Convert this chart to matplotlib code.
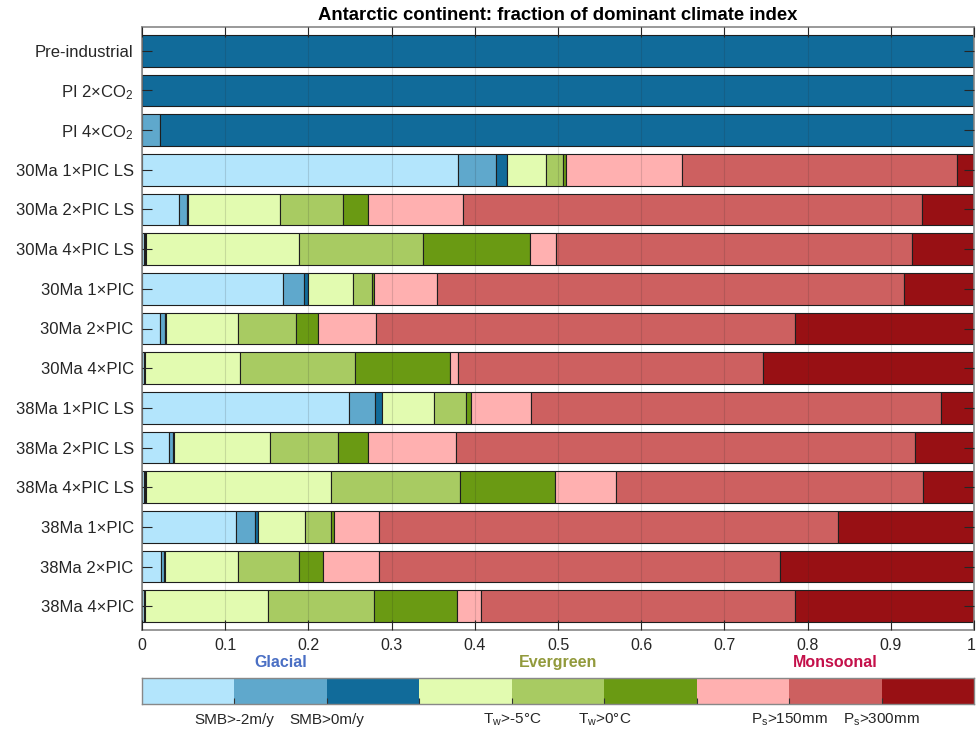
import numpy as np
import matplotlib
matplotlib.use("Agg")
import matplotlib.pyplot as plt
import matplotlib.transforms as mtransforms

plt.rcParams['font.family'] = ['Liberation Sans', 'DejaVu Sans']
plt.rcParams['mathtext.fontset'] = 'custom'
plt.rcParams['mathtext.rm'] = 'Liberation Sans'
plt.rcParams['mathtext.it'] = 'Liberation Sans'

# Experiments, top to bottom
experiments = [
    'Pre-industrial', 'PI 2×CO$_2$', 'PI 4×CO$_2$',
    '30Ma 1×PIC LS', '30Ma 2×PIC LS', '30Ma 4×PIC LS',
    '30Ma 1×PIC', '30Ma 2×PIC', '30Ma 4×PIC',
    '38Ma 1×PIC LS', '38Ma 2×PIC LS', '38Ma 4×PIC LS',
    '38Ma 1×PIC', '38Ma 2×PIC', '38Ma 4×PIC',
]

# Fraction of the continent in each dominant climate class
glacial_1 = [0, 0, 0, 0.380, 0.045, 0.003, 0.170, 0.022, 0.002, 0.249, 0.032, 0.003, 0.113, 0.023, 0.002]
glacial_2 = [0, 0, 0.022, 0.046, 0.009, 0.001, 0.025, 0.006, 0.001, 0.031, 0.005, 0.001, 0.023, 0.004, 0.001]
glacial_3 = [1.0, 1.0, 0.978, 0.013, 0.001, 0.001, 0.005, 0.001, 0.001, 0.008, 0.001, 0.001, 0.004, 0.001, 0.001]
evergreen_1 = [0, 0, 0, 0.047, 0.111, 0.184, 0.054, 0.086, 0.114, 0.063, 0.116, 0.222, 0.056, 0.087, 0.148]
evergreen_2 = [0, 0, 0, 0.020, 0.076, 0.149, 0.022, 0.070, 0.138, 0.038, 0.082, 0.155, 0.031, 0.074, 0.127]
evergreen_3 = [0, 0, 0, 0.004, 0.030, 0.128, 0.003, 0.027, 0.114, 0.006, 0.036, 0.114, 0.004, 0.028, 0.100]
monsoonal_1 = [0, 0, 0, 0.139, 0.114, 0.032, 0.075, 0.069, 0.010, 0.072, 0.105, 0.074, 0.054, 0.068, 0.028]
monsoonal_2 = [0, 0, 0, 0.330, 0.552, 0.428, 0.562, 0.504, 0.366, 0.493, 0.552, 0.369, 0.551, 0.482, 0.378]
monsoonal_3 = [0, 0, 0, 0.021, 0.062, 0.074, 0.084, 0.215, 0.254, 0.040, 0.071, 0.061, 0.164, 0.233, 0.215]

series = [glacial_1, glacial_2, glacial_3,
          evergreen_1, evergreen_2, evergreen_3,
          monsoonal_1, monsoonal_2, monsoonal_3]

colors = ['#b3e5fc', '#5fa8cc', '#116b9a',
          '#e2fbb0', '#a8cb62', '#6a9a13',
          '#ffb0b0', '#cd6060', '#981014']

group_names = ['Glacial', 'Evergreen', 'Monsoonal']
group_colors = ['#4a6fc4', '#929a3c', '#c4104a']
class_labels = ['SMB>-2m/y', 'SMB>0m/y', '', 'T$_w$>-5°C', 'T$_w$>0°C', '',
                'P$_s$>150mm', 'P$_s$>300mm']
x_ticks = np.round(np.arange(0, 1.01, 0.1), 1)
x_ticklabels = ['0', '0.1', '0.2', '0.3', '0.4', '0.5', '0.6', '0.7', '0.8', '0.9', '1']

fig = plt.figure(figsize=(9.76, 7.30), dpi=100)
ax = fig.add_axes([142 / 976, 1 - 630 / 730, 832 / 976, 603 / 730])

y = np.arange(len(experiments))
left = np.zeros(len(experiments))
for vals, col in zip(series, colors):
    vals = np.asarray(vals)
    ax.barh(y, vals, left=left, height=0.8, color=col,
            edgecolor='#1e1e1e', linewidth=0.8, zorder=2)
    left += vals

ax.set_xlim(0, 1)
ax.set_ylim(len(experiments) - 0.4, -0.6)
ax.set_yticks(y)
ax.set_yticklabels(experiments, fontsize=12, color='#262626')
ax.set_xticks(x_ticks)
ax.set_xticklabels(x_ticklabels, fontsize=11.5, color='#262626')
ax.tick_params(axis='both', direction='in', length=7, width=0.8,
               color='#262626', top=True, right=True, pad=6)
# keep the last tick label inside the figure
last = ax.get_xticklabels()[-1]
last.set_transform(last.get_transform() +
                   mtransforms.ScaledTranslation(-3 / 100, 0, fig.dpi_scale_trans))
ax.grid(axis='x', color='#262626', alpha=0.15, linewidth=0.8, zorder=3)
ax.set_axisbelow(False)
for s in ax.spines.values():
    s.set_color('#888888')
    s.set_linewidth(1.2)
ax.set_title('Antarctic continent: fraction of dominant climate index',
             fontsize=13.3, fontweight='bold', pad=5)

# Class colour key
lax = fig.add_axes([142 / 976, 1 - 704 / 730, 832 / 976, 26 / 730])
n = len(colors)
lax.barh([0] * n, [1] * n, left=np.arange(n), height=1, color=colors,
         edgecolor='none')
lax.set_xlim(0, n)
lax.set_ylim(-0.5, 0.5)
lax.set_yticks([])
lax.set_xticks(np.arange(1, n))
lax.set_xticklabels([])
lax.tick_params(axis='x', direction='in', length=4, width=0.8, color='#333333')
for s in lax.spines.values():
    s.set_color('#888888')
    s.set_linewidth(1.0)

for i, (name, col) in enumerate(zip(group_names, group_colors)):
    lax.text(3 * i + 1.5, 1.1, name, ha='center', va='center',
             fontsize=11.5, fontweight='bold', color=col,
             transform=lax.transData, clip_on=False)
for k, lab in enumerate(class_labels):
    if lab:
        lax.text(k + 1, -1.1, lab, ha='center', va='center',
                 fontsize=11, color='#262626', clip_on=False)

fig.savefig('out.png', dpi=100)
